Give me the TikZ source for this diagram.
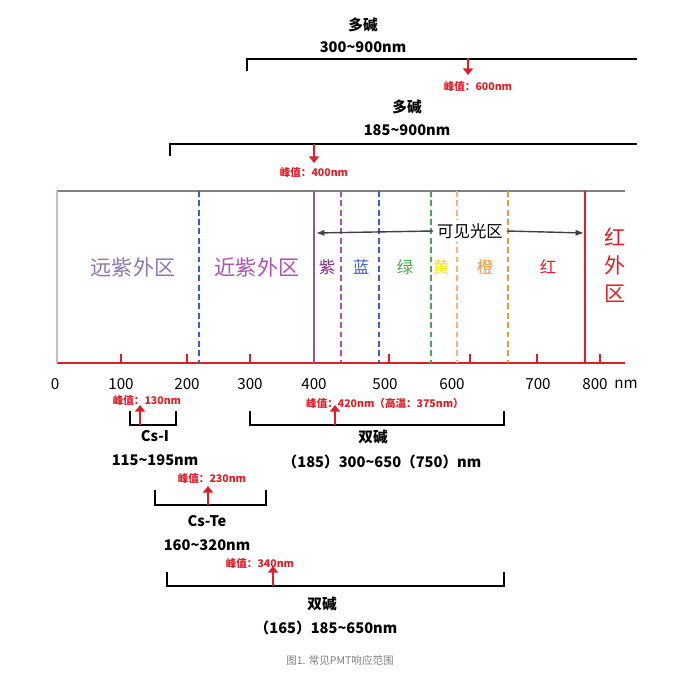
\documentclass[tikz,border=0pt]{standalone}
\usepackage{fontspec}
\setmainfont{Noto Sans CJK SC}
\usetikzlibrary{arrows.meta,positioning}
\definecolor{cfar}{RGB}{140,120,170}
\definecolor{cnear}{RGB}{175,80,180}
\definecolor{cviolet}{RGB}{130,40,130}
\definecolor{cblue}{RGB}{60,90,210}
\definecolor{cgreen}{RGB}{70,170,80}
\definecolor{cyellow}{RGB}{235,230,0}
\definecolor{corange}{RGB}{240,150,60}
\definecolor{cred}{RGB}{225,30,40}
\begin{document}
\begin{tikzpicture}[
  x=0.03cm,y=-0.03cm,
  font=\bfseries\fontsize{12.5}{15}\selectfont,
  >={Latex[length=2.5mm]},
  brk/.style={draw,line width=1.5pt},
  peak/.style={draw=cred,line width=2pt,-{Triangle[length=2mm,width=3mm]}},
  pklab/.style={text=cred,font=\bfseries\fontsize{9}{11}\selectfont},
  region/.style={font=\fontsize{18}{20}\selectfont},
  band/.style={font=\fontsize{14}{16}\selectfont},
  tick/.style={font=\fontsize{13}{15}\selectfont},
  vdash/.style={dashed,line width=1.3pt,dash pattern=on 5pt off 3pt}
]
\useasboundingbox (0,0) rectangle (686,674);

% 上:多碱
\node (mk1) at (363,25) {多碱};
\node (mk1r) at (363,47) {300\textasciitilde900nm};
\draw[brk] (247,71) -- (247,59) -- (637,59);
\coordinate (pk1) at (468,58);
\draw[peak] (pk1) -- ++(0,17);
\node[pklab] (pk1l) at (478,86) {峰值：600nm};

\node (mk2) at (407,107) {多碱};
\node (mk2r) at (407,130) {185\textasciitilde900nm};
\draw[brk] (170,156) -- (170,144) -- (637,144);
\coordinate (pk2) at (314,144);
\draw[peak] (pk2) -- ++(0,19);
\node[pklab] (pk2l) at (314,172) {峰值：400nm};

% 光谱区域
\draw[gray,line width=1.5pt] (57,191) -- (625,191);
\draw[cred,line width=1.5pt] (57,363) -- (625,363);
\draw[cfar!50,line width=1.3pt] (57,191) -- (57,363);
\draw[cblue,vdash] (199,191) -- (199,363);
\draw[cviolet!80,line width=1.3pt] (314,191) -- (314,363);
\draw[cnear,vdash] (341,191) -- (341,363);
\draw[cblue,vdash] (379,191) -- (379,363);
\draw[cgreen,vdash] (431,191) -- (431,363);
\draw[corange!70,vdash] (457,191) -- (457,363);
\draw[corange,vdash] (508,191) -- (508,363);
\draw[cred,line width=1.5pt] (585,191) -- (585,363);
\foreach \x in {121,187,250,389,470,537,600}
  \draw[cred,line width=1.5pt] (\x,363) -- (\x,354);

\node[region,text=cfar] (far) at (133,267) {远紫外区};
\node[region,text=cnear] (near) at (257,267) {近紫外区};
\node[band,text=cviolet] (vio) at (327,267) {紫};
\node[band,text=cblue] (blu) at (361,267) {蓝};
\node[band,text=cgreen] (grn) at (405,267) {绿};
\node[band,text=cyellow] (yel) at (441,267) {黄};
\node[band,text=corange] (org) at (485,267) {橙};
\node[band,text=cred] (red) at (548,267) {红};
\node[region,text=cred,align=center,font=\fontsize{18}{24}\selectfont] (ir) at (615,265) {红\\外\\区};

\node[band,fill=white] (vis) at (470,231) {可见光区};
\coordinate (visl) at (316,233);
\coordinate (visr) at (584,233);
\draw[->,line width=1.2pt,darkgray] (vis.west) -- (visl);
\draw[->,line width=1.2pt,darkgray] (vis.east) -- (visr);

% 刻度
\foreach \x/\t in {55/0,121/100,187/200,250/300,314/400,385/500,452/600,538/700,595/800}
  \node[tick] at (\x,384) {\t};
\node[tick] (unit) at (626,384) {nm};

% Cs-I
\draw[brk] (130,411) -- (130,425) -- (176,425) -- (176,411);
\draw[peak] (140,425) -- (140,405);
\node[pklab] (pk3l) at (147,400) {峰值：130nm};
\node (csi) at (155,436) {Cs-I};
\node (csir) at (155,460) {115\textasciitilde195nm};

% 双碱 300-650
\draw[brk] (250,411) -- (250,425) -- (504,425) -- (504,411);
\draw[peak] (335,425) -- (335,405);
\node[pklab] (pk4l) at (385,403) {峰值：420nm（高温：375nm）};
\node (ba1) at (373,437) {双碱};
\node (ba1r) at (382,462) {（185）300\textasciitilde650（750）nm};

% Cs-Te
\draw[brk] (155,490) -- (155,505) -- (266,505) -- (266,490);
\draw[peak] (208,505) -- (208,486);
\node[pklab] (pk5l) at (212,478) {峰值：230nm};
\node (cste) at (207,521) {Cs-Te};
\node (cster) at (207,545) {160\textasciitilde320nm};

% 双碱 185-650
\draw[brk] (167,572) -- (167,586) -- (504,586) -- (504,572);
\draw[peak] (273,586) -- (273,566);
\node[pklab] (pk6l) at (260,563) {峰值：340nm};
\node (ba2) at (322,604) {双碱};
\node (ba2r) at (326,628) {（165）185\textasciitilde650nm};

\node[gray,font=\fontsize{9}{11}\selectfont] (cap) at (340,660) {图1. 常见PMT响应范围};
\end{tikzpicture}
\end{document}
